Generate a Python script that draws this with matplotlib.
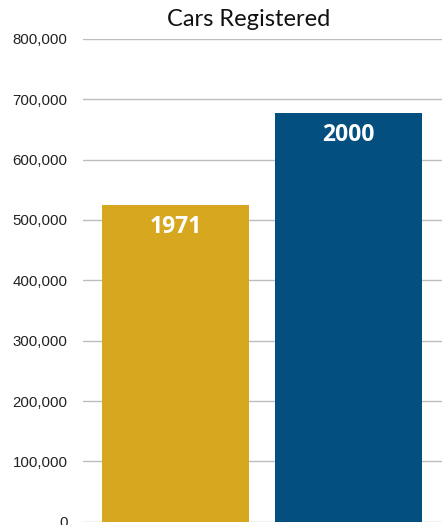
import matplotlib
matplotlib.use("Agg")
import matplotlib.pyplot as plt
from matplotlib.ticker import FuncFormatter

years = ["1971", "2000"]
cars = [525000, 677000]
colors = ["#D7A81F", "#034F7F"]
yticks = [0, 100000, 200000, 300000, 400000, 500000, 600000, 700000, 800000]

fig = plt.figure(figsize=(4.48, 5.25), dpi=100)
ax = fig.add_axes([0.185, 0.006, 0.802, 0.92])

x = list(range(len(years)))
bars = ax.bar(x, cars, width=0.85, color=colors, zorder=2)

for b, lab in zip(bars, years):
    ax.text(b.get_x() + b.get_width() / 2, b.get_height() - 36000, lab,
            ha="center", va="center", color="white", fontsize=16.5,
            fontweight="bold", family="Open Sans")

ax.set_xlim(-0.535, 1.54)
ax.set_ylim(0, 800000)
ax.set_yticks(yticks)
ax.yaxis.set_major_formatter(FuncFormatter(lambda v, p: f"{int(v):,}"))
ax.set_xticks([])
ax.grid(axis="y", color="#BDBDBD", linewidth=1, zorder=0)
ax.tick_params(axis="y", length=0, pad=11, labelsize=10.8, labelcolor="#222222")
for lab in ax.get_yticklabels():
    lab.set_family("Liberation Sans")
for s in ax.spines.values():
    s.set_visible(False)

fig.text(0.555, 0.962, "Cars Registered", ha="center", va="center",
         fontsize=17, family="Lato", color="#111111")

fig.savefig("out.png", dpi=100)
